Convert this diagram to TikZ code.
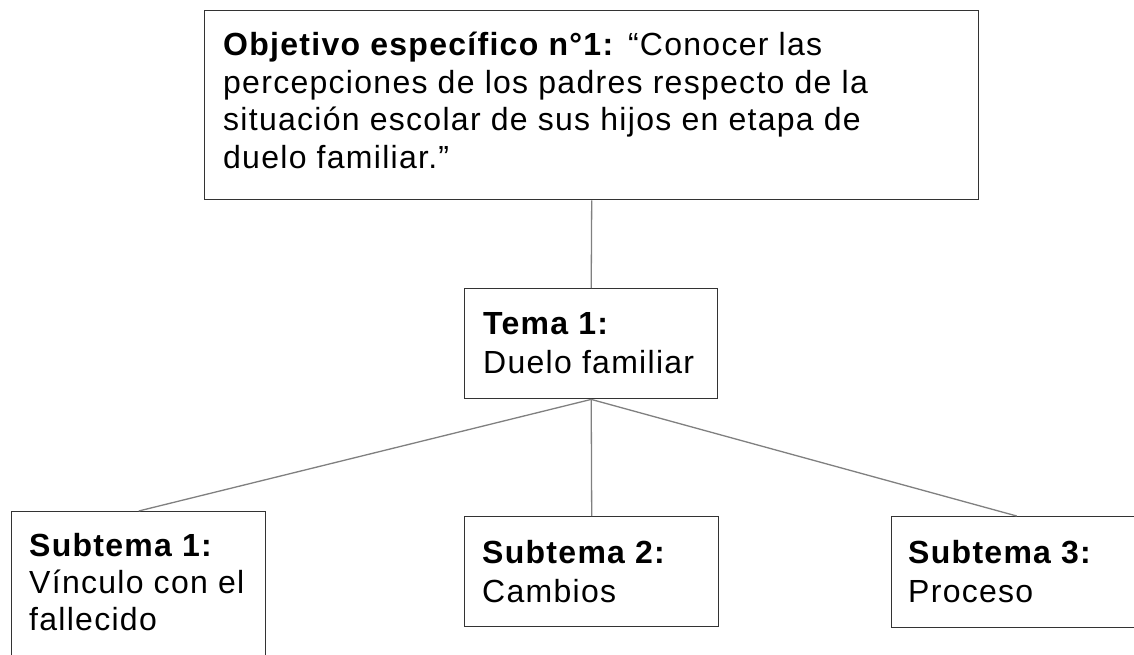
\documentclass[tikz,border=0pt]{standalone}
\usepackage{fontspec}
\setmainfont[LetterSpace=4]{Liberation Sans}
\begin{document}
\begin{tikzpicture}[x=1pt,y=-1pt,
  boxstyle/.style={draw=black!80, line width=1.4pt, fill=white, inner sep=0pt, anchor=north west},
  conn/.style={draw=black!50, line width=1.3pt},
  txt/.style={anchor=base west, inner sep=0pt, font=\fontsize{32}{38}\selectfont},
  btxt/.style={txt, font=\fontsize{32}{38}\selectfont\bfseries}]
\useasboundingbox (0,0) rectangle (1134,655);
\clip (0,0) rectangle (1134,655);
\fill[white] (0,0) rectangle (1134,655);
% boxes
\node[boxstyle, minimum width=774pt, minimum height=189pt] (top) at (204,10) {};
\node[boxstyle, minimum width=253pt, minimum height=110pt] (tema) at (464,288) {};
\node[boxstyle, minimum width=254pt, minimum height=200pt] (sub1) at (11,511) {};
\node[boxstyle, minimum width=254pt, minimum height=110pt] (sub2) at (464,516) {};
\node[boxstyle, minimum width=250pt, minimum height=111pt] (sub3) at (891,516) {};
% connectors
\draw[conn] (top.south) -- (tema.north);
\draw[conn] (tema.south) -- (sub1.north);
\draw[conn] (tema.south) -- (sub2.north);
\draw[conn] (tema.south) -- (sub3.north);
% top text
\node[txt] (t1) at (223,56) {\textbf{Objetivo específico n°1:} “Conocer las};
\node[txt] (t2) at (223,94) {percepciones de los padres respecto de la};
\node[txt] (t3) at (223,131) {situación escolar de sus hijos en etapa de};
\node[txt] (t4) at (223,168) {duelo familiar.”};
% tema text
\node[btxt] (tm1) at (483,334) {Tema 1:};
\node[txt] (tm2) at (483,373) {Duelo familiar};
% subtema 1
\node[btxt] (s11) at (29,556) {Subtema 1:};
\node[txt] (s12) at (29,593) {Vínculo con el};
\node[txt] (s13) at (29,630) {fallecido};
% subtema 2
\node[btxt] (s21) at (482,563) {Subtema 2:};
\node[txt] (s22) at (482,602) {Cambios};
% subtema 3
\node[btxt] (s31) at (908,563) {Subtema 3:};
\node[txt] (s32) at (908,602) {Proceso};
\end{tikzpicture}
\end{document}
